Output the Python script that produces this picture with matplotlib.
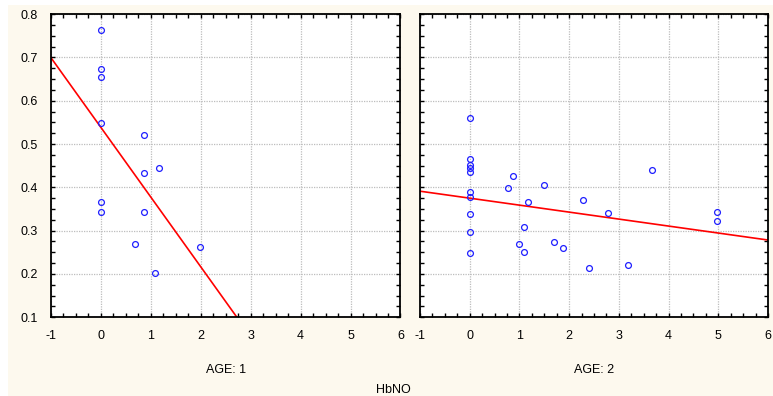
import matplotlib.pyplot as plt
from matplotlib.patches import Rectangle
from matplotlib.ticker import MultipleLocator

plt.rcParams["font.family"] = ["Liberation Sans", "DejaVu Sans"]
plt.rcParams["axes.unicode_minus"] = False

# HbNO values by group
age1_x = [0, 0, 0, 0, 0, 0, 0.87, 0.87, 1.17, 0.87, 0.69, 1.09, 1.99]
age1_y = [0.762, 0.672, 0.654, 0.549, 0.367, 0.343, 0.521, 0.434, 0.445,
          0.343, 0.270, 0.203, 0.263]

age2_x = [0, 0, 0, 0, 0, 0, 0, 0, 0, 0,
          0.87, 0.78, 1.49, 1.18, 2.27, 2.79, 3.67, 4.98, 4.98,
          1.09, 1.0, 1.09, 1.69, 1.88, 2.4, 3.18]
age2_y = [0.559, 0.465, 0.452, 0.444, 0.435, 0.389, 0.378, 0.339, 0.298, 0.249,
          0.427, 0.399, 0.406, 0.367, 0.371, 0.340, 0.441, 0.343, 0.322,
          0.308, 0.270, 0.250, 0.273, 0.259, 0.213, 0.220]

# regression lines (intercept, slope)
fit1 = (0.539, -0.161)
fit2 = (0.375, -0.0161)

panels = [
    ("AGE: 1", age1_x, age1_y, fit1),
    ("AGE: 2", age2_x, age2_y, fit2),
]

fig = plt.figure(figsize=(7.73, 3.96), dpi=100, facecolor="white")
fig.patches.append(Rectangle((8 / 773, 0), 1, 391 / 396, transform=fig.transFigure,
                             facecolor="#fdf9ee", edgecolor="none", zorder=-10))

positions = [[0.0656, 0.1987, 0.4525, 0.7659], [0.5433, 0.1987, 0.4502, 0.7659]]

for i, (title, xs, ys, fit) in enumerate(panels):
    ax = fig.add_axes(positions[i])
    ax.set_facecolor("white")
    ax.set_xlim(-1, 6)
    ax.set_ylim(0.1, 0.8)
    ax.xaxis.set_major_locator(MultipleLocator(1))
    ax.xaxis.set_minor_locator(MultipleLocator(0.25))
    ax.yaxis.set_major_locator(MultipleLocator(0.1))
    ax.yaxis.set_minor_locator(MultipleLocator(0.025))
    ax.grid(True, which="major", color="#bdbdbd", linestyle=(0, (1, 1)), linewidth=0.9)
    ax.set_axisbelow(True)
    ax.tick_params(which="both", direction="in", top=True, right=True,
                   length=3, width=1, labelsize=9, pad=9, colors="black")
    for sp in ax.spines.values():
        sp.set_linewidth(1.3)
    if i == 1:
        ax.tick_params(labelleft=False)
    else:
        ax.set_yticks([0.1, 0.2, 0.3, 0.4, 0.5, 0.6, 0.7, 0.8])
        ax.set_yticklabels(["0.1", "0.2", "0.3", "0.4", "0.5", "0.6", "0.7", "0.8"])

    b0, b1 = fit
    ax.plot([-1, 6], [b0 + b1 * -1, b0 + b1 * 6], color="#ff0000", linewidth=1.2, zorder=2)
    ax.plot(xs, ys, linestyle="none", marker="o", markersize=4.2,
            markerfacecolor="none", markeredgecolor="#1f1fff", markeredgewidth=0.9,
            zorder=3, clip_on=False)
    ax.set_xlabel(title, fontsize=9, labelpad=16)

fig.text(393 / 773, 6 / 396, "HbNO", fontsize=9, ha="center", va="center")

fig.savefig("out.png", dpi=100, facecolor=fig.get_facecolor())
